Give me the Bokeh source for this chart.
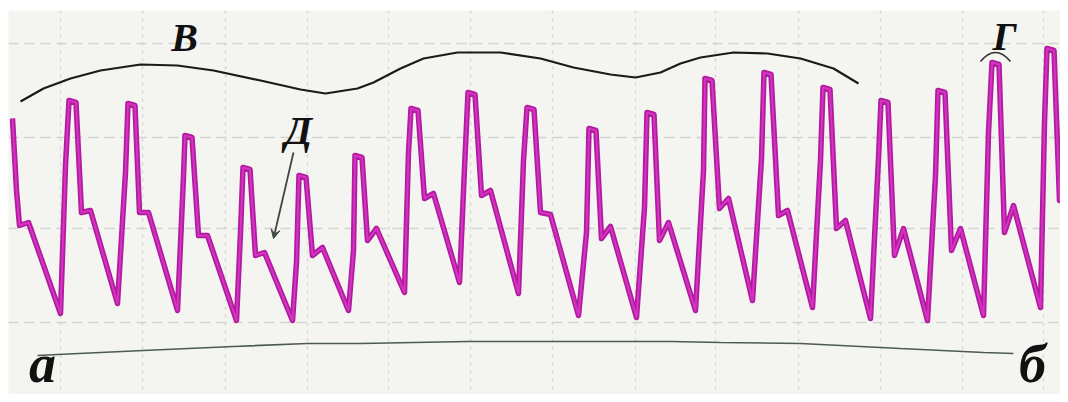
from bokeh.plotting import figure
from bokeh.models import Range1d, FixedTicker, Arrow, VeeHead
from bokeh.core.properties import value
from bokeh.embed import file_html
from bokeh.resources import INLINE

# ---- pulse trace (time, deflection; deflection grows downward) ----
lead_t = [12, 16, 19, 28]
lead_d = [118, 190, 225, 222]

trough_t = [60, 117, 177, 236, 292, 348, 404, 459, 518, 578, 636, 695, 752, 812, 870, 927, 983, 1040]
trough_d = [313, 303, 310, 320, 320, 310, 292, 282, 293, 315, 317, 310, 300, 307, 318, 320, 315, 307]
kink_t = [65, 125, 183, 240, 296, 353, 408, 464, 523, 586, 644, 703, 761, 820, 878, 935, 988, 1044]
kink_d = [165, 172, 176, 232, 262, 250, 152, 168, 160, 232, 207, 170, 158, 160, 158, 175, 132, 122]
peak_t = [72, 131, 188, 246, 302, 358, 414, 471, 530, 592, 650, 708, 767, 826, 884, 941, 995, 1050]
peak_d = [100, 103, 135, 167, 175, 155, 108, 92, 107, 128, 112, 78, 72, 87, 100, 90, 62, 48]
notch_t = [81, 139, 198, 255, 312, 367, 424, 481, 540, 601, 659, 719, 778, 836, 894, 951, 1004, 1059]
notch_d = [212, 212, 235, 255, 255, 240, 198, 195, 212, 238, 240, 208, 215, 228, 255, 250, 232, 200]
bump_t = [90, 148, 207, 264, 322, 376, 433, 490, 550, 610, 668, 728, 787, 845, 903, 960, 1013, 1067]
bump_d = [210, 212, 235, 252, 247, 228, 193, 190, 214, 226, 222, 198, 210, 220, 228, 228, 205, 196]

# ---- envelope curve "В" ----
env_t = [20, 43, 70, 100, 140, 177, 213, 260, 300, 325, 357, 373, 400, 423, 457, 500, 540, 573,
         610, 635, 660, 680, 700, 733, 767, 800, 833, 858]
env_d = [101, 88, 78, 70, 64, 65, 70, 80, 89, 93, 88, 82, 68, 58, 52, 52, 58, 67,
         74, 77, 72, 63, 57, 52, 53, 58, 68, 83]

# ---- baseline curve "а - б" ----
base_t = [37, 57, 143, 233, 307, 360, 467, 670, 720, 800, 900, 983, 1013]
base_d = [355, 354, 350, 346, 343, 343, 341, 341, 342, 343, 348, 352, 353]

# ---- labels ----
lab_text = ["В", "Г", "Д", "а", "б"]
lab_t = [184, 1004, 298, 42, 1032]
lab_d = [37, 36, 130, 393, 393]
lab_size = ["40px", "40px", "40px", "54px", "54px"]
lab_base = ["middle", "middle", "middle", "bottom", "bottom"]

grid_t = [60, 142, 225, 307, 388, 470, 552, 635, 715, 798, 880, 962, 1043]
grid_d = [43, 137, 228, 322]

PEAK_HALF = 3.5

xs = list(lead_t)
ys = list(lead_d)
for i in range(len(peak_t)):
    xs += [trough_t[i], kink_t[i], peak_t[i] - PEAK_HALF, peak_t[i] + PEAK_HALF, notch_t[i], bump_t[i]]
    ys += [trough_d[i], kink_d[i], peak_d[i], peak_d[i] + 2, notch_d[i], bump_d[i]]

p = figure(width=1060, height=394, x_range=Range1d(8, 1060), y_range=Range1d(394, 10),
           output_backend="svg", toolbar_location=None,
           min_border_left=8, min_border_top=10, min_border_right=0, min_border_bottom=0)
p.xaxis.visible = False
p.yaxis.visible = False
p.outline_line_color = None
p.background_fill_color = "#f4f4f1"
p.border_fill_color = "white"
p.xgrid.ticker = FixedTicker(ticks=grid_t)
p.ygrid.ticker = FixedTicker(ticks=grid_d)
p.xgrid.grid_line_color = "#d6d6d2"
p.xgrid.grid_line_dash = "3 5"
p.xgrid.grid_line_width = 1.5
p.ygrid.grid_line_color = "#d2d2ce"
p.ygrid.grid_line_dash = "10 6"
p.ygrid.grid_line_width = 1.5

p.line(env_t, env_d, line_color="#1a1a1a", line_width=2.2)
p.line(base_t, base_d, line_color="#4d5a54", line_width=1.6)

p.line(xs, ys, line_color="#b01c9c", line_width=5.5, line_join="round")
p.line(xs, ys, line_color="#d633c6", line_width=2, line_join="round")

# small arc over peak "Г"
p.quadratic(x0=[980], y0=[61], x1=[1010], y1=[61], cx=[995], cy=[43], line_color="#333333", line_width=1.6)

p.add_layout(Arrow(x_start=293, y_start=152, x_end=273, y_end=238,
                   line_color="#3c4a40", line_width=1.8,
                   end=VeeHead(size=9, line_color="#3c4a40", fill_color="#3c4a40")))

for t, x, y, s, b in zip(lab_text, lab_t, lab_d, lab_size, lab_base):
    p.text(x=[x], y=[y], text=[t], text_font=value("Liberation Serif"), text_font_style="bold italic",
           text_font_size=s, text_align="center", text_baseline=b, text_color="#111111")

open("out.html", "w").write(file_html(p, INLINE))
